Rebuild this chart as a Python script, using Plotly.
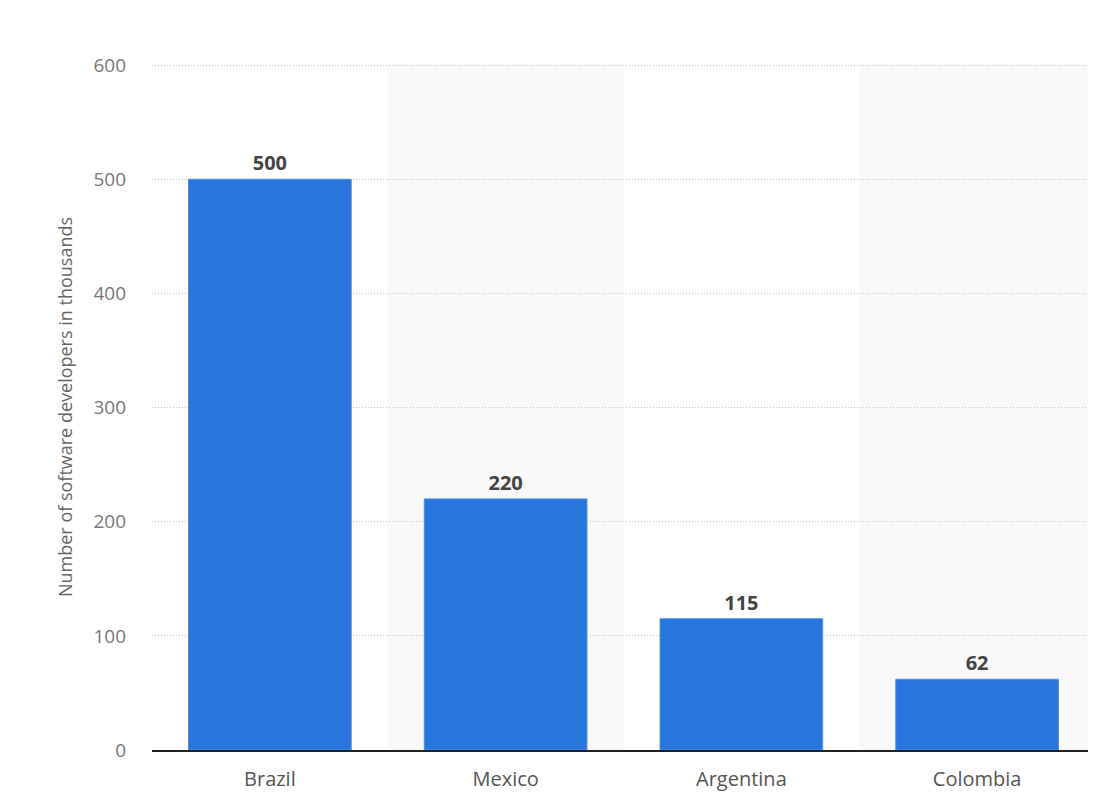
import plotly.graph_objects as go

countries = ["Brazil", "Mexico", "Argentina", "Colombia"]
developers = [500, 220, 115, 62]
y_ticks = [0, 100, 200, 300, 400, 500, 600]

fig = go.Figure()
fig.add_trace(go.Bar(
    x=countries, y=developers,
    marker=dict(color="#2876DD", line=dict(color="#4d8fe4", width=1)),
    text=[str(v) for v in developers], textposition="outside",
    textfont=dict(family="Open Sans", size=20, color="#444444", weight="bold"),
    cliponaxis=False, width=0.69,
))

shapes = []
for i, c in enumerate(countries):
    if i % 2 == 1:
        shapes.append(dict(type="rect", xref="x", yref="paper", x0=i - 0.5, x1=i + 0.5,
                           y0=0, y1=1, fillcolor="#f8f8f8", line=dict(width=0), layer="below"))

fig.update_layout(
    width=1088, height=791,
    margin=dict(l=144, r=1, t=56, b=49),
    paper_bgcolor="white", plot_bgcolor="white",
    shapes=shapes, showlegend=False,
    font=dict(family="Open Sans", color="#666666"),
    xaxis=dict(showgrid=False, showline=True, linecolor="#222222", linewidth=1.5,
               tickfont=dict(size=20, color="#555555"), ticks="", ticklabelstandoff=10,
               automargin=False),
    yaxis=dict(range=[0, 601], tickvals=y_ticks, showgrid=True, gridcolor="#c4c4c4",
               griddash="1px,2px", gridwidth=1, zeroline=False, automargin=False,
               tickfont=dict(size=19, color="#777777"), ticklabelstandoff=25,
               title=dict(text="Number of software developers in thousands",
                          font=dict(size=18, color="#666666"), standoff=16)),
)
fig.write_html("out.html")
